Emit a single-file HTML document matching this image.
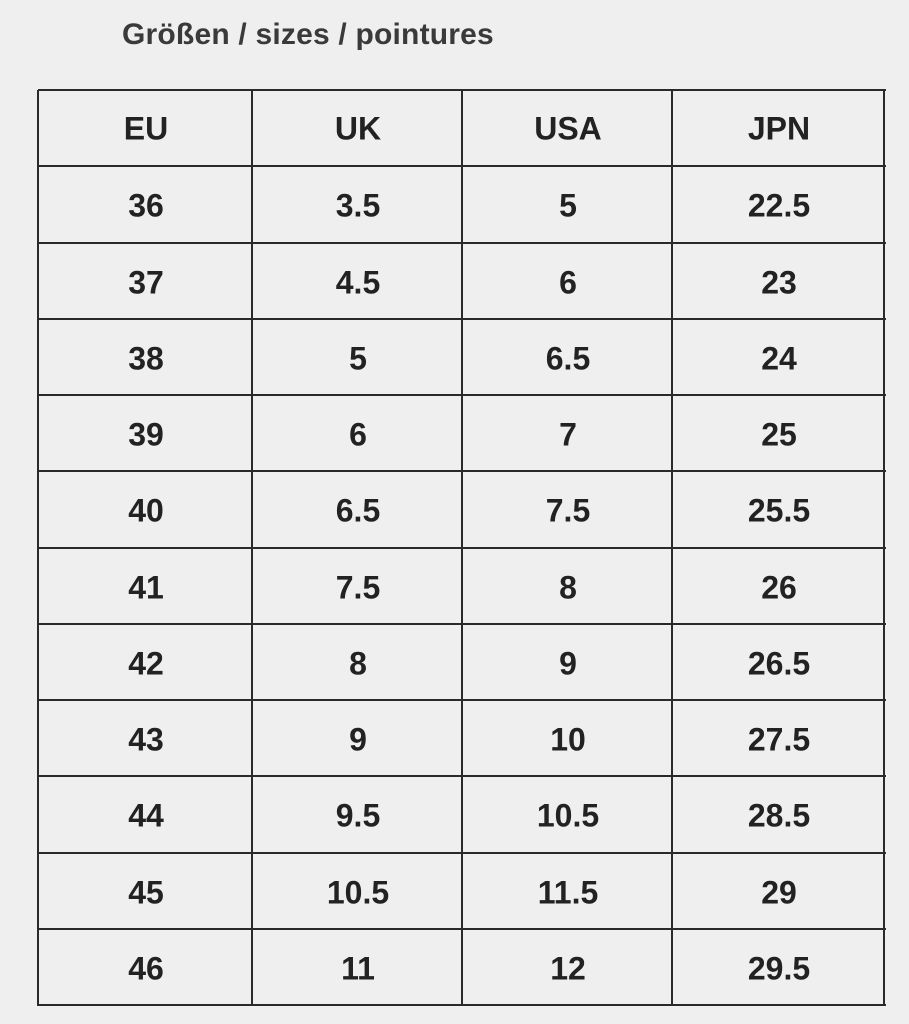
<!DOCTYPE html>
<html>
<head>
<meta charset="utf-8">
<style>
  html,body{margin:0;padding:0;}
  body{width:909px;height:1024px;background:#efefef;position:relative;overflow:hidden;font-family:"Liberation Sans",sans-serif;}
  #title{position:absolute;left:122px;top:18px;font-size:30px;font-weight:bold;color:#3a3a3a;letter-spacing:0.2px;}
  .hl{position:absolute;height:2px;background:#2a2a2a;}
  .vl{position:absolute;width:2px;background:#2a2a2a;}
  .cell{position:absolute;font-size:32px;font-weight:bold;color:#222;text-align:center;transform:translate(-50%,-50%);white-space:nowrap;}
</style>
</head>
<body>
<div id="title">Größen / sizes / pointures</div>
<div id="table"></div>
<script>
const headers = ["EU","UK","USA","JPN"];
const eu = ["36","37","38","39","40","41","42","43","44","45","46"];
const uk = ["3.5","4.5","5","6","6.5","7.5","8","9","9.5","10.5","11"];
const usa = ["5","6","6.5","7","7.5","8","9","10","10.5","11.5","12"];
const jpn = ["22.5","23","24","25","25.5","26","26.5","27.5","28.5","29","29.5"];

const colX = [38,252,462,672,884];
const top0 = 90, bottom0 = 1005;
const nRows = eu.length + 1;
const rowH = (bottom0 - top0) / nRows;
const t = document.getElementById('table');

for (let i = 0; i <= nRows; i++) {
  const d = document.createElement('div');
  d.className = 'hl';
  
  
  d.style.left = colX[0] + 'px';
  d.style.width = (colX[4] - colX[0] + 2) + 'px';
  d.style.top = (top0 + i * rowH - 1) + 'px';
  t.appendChild(d);
}
for (let j = 0; j < colX.length; j++) {
  const d = document.createElement('div');
  d.className = 'vl';
  
  
  d.style.left = (colX[j] - 1) + 'px';
  d.style.top = top0 + 'px';
  d.style.height = (bottom0 - top0 + 1) + 'px';
  t.appendChild(d);
}
const cols = [eu, uk, usa, jpn];
const colNames = ['eu','uk','usa','jpn'];
for (let j = 0; j < 4; j++) {
  const cx = (colX[j] + colX[j+1]) / 2 + 1;
  const h = document.createElement('div');
  h.className = 'cell';
  
  
  h.textContent = headers[j];
  h.style.left = cx + 'px';
  h.style.top = (top0 + rowH / 2 + 1) + 'px';
  t.appendChild(h);
  for (let i = 0; i < cols[j].length; i++) {
    const c = document.createElement('div');
    c.className = 'cell';
    
    
    c.textContent = cols[j][i];
    c.style.left = cx + 'px';
    c.style.top = (top0 + (i + 1.5) * rowH + 2) + 'px';
    t.appendChild(c);
  }
}
</script>
</body>
</html>
